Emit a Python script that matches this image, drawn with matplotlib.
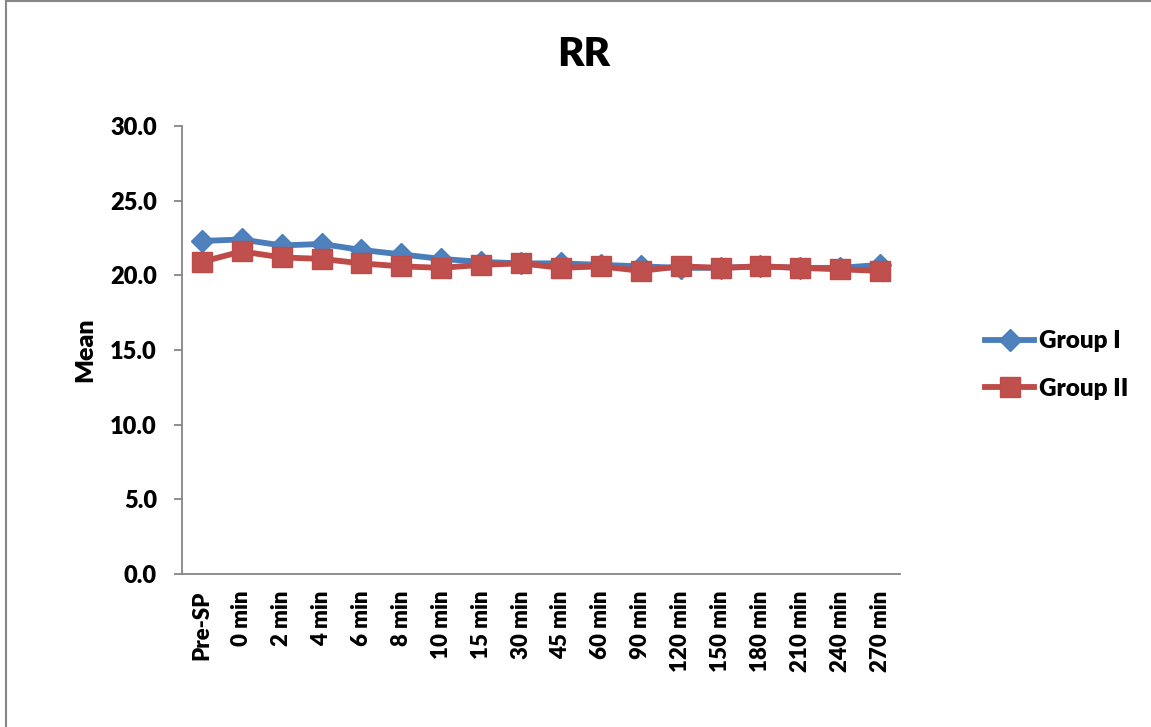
import matplotlib.pyplot as plt
from matplotlib.lines import Line2D

# RR means per time point
time_points = ["Pre-SP", "0 min", "2 min", "4 min", "6 min", "8 min", "10 min", "15 min",
               "30 min", "45 min", "60 min", "90 min", "120 min", "150 min", "180 min",
               "210 min", "240 min", "270 min"]
group_1 = [22.3, 22.4, 22.0, 22.1, 21.7, 21.4, 21.1, 20.9, 20.8, 20.8, 20.7, 20.6,
           20.5, 20.5, 20.6, 20.5, 20.5, 20.7]
group_2 = [20.9, 21.6, 21.2, 21.1, 20.8, 20.6, 20.5, 20.7, 20.8, 20.5, 20.6, 20.3,
           20.6, 20.5, 20.6, 20.5, 20.4, 20.3]

plt.rcParams['font.family'] = ['Lato', 'DejaVu Sans']
plt.rcParams['font.weight'] = 'heavy'

fig = plt.figure(figsize=(11.51, 7.27), dpi=100)
ax = fig.add_axes([0.158, 0.2105, 0.624, 0.6162])

x = range(len(time_points))
ax.plot(x, group_1, color='#4a7ebb', lw=4.2, marker='D', markersize=11,
        markerfacecolor='#4f81bd', markeredgecolor='#4a7ebb', label='Group I', zorder=2)
ax.plot(x, group_2, color='#be4b48', lw=4.2, marker='s', markersize=14,
        markerfacecolor='#c0504d', markeredgecolor='#be4b48', label='Group II', zorder=3)

ax.set_xlim(-0.5, len(time_points) - 0.5)
ax.set_ylim(0, 30)
ax.set_yticks([0, 5, 10, 15, 20, 25, 30])
ax.set_yticklabels([f"{v:.1f}" for v in [0, 5, 10, 15, 20, 25, 30]], fontsize=17, fontweight='heavy')
ax.set_xticks(list(x))
ax.set_xticklabels(time_points, rotation=90, fontsize=16, fontweight='heavy')
ax.tick_params(axis='x', length=0, pad=12)
ax.tick_params(axis='y', length=6, color='#868686', width=1.3, pad=12)

for side in ['top', 'right']:
    ax.spines[side].set_visible(False)
for side in ['left', 'bottom']:
    ax.spines[side].set_color('#868686')
    ax.spines[side].set_linewidth(1.3)

ax.set_ylabel('Mean', fontsize=18, fontweight='heavy', labelpad=10)
fig.text(0.507, 0.925, 'RR', ha='center', va='center', fontsize=29, fontweight='heavy')

handles = [Line2D([], [], color='#4a7ebb', lw=4.2, marker='D', markersize=11,
                  markerfacecolor='#4f81bd', markeredgecolor='#4a7ebb'),
           Line2D([], [], color='#be4b48', lw=4.2, marker='s', markersize=14,
                  markerfacecolor='#c0504d', markeredgecolor='#be4b48')]
fig.legend(handles, ['Group I', 'Group II'], loc='center left', bbox_to_anchor=(0.837, 0.498),
           frameon=False, handlelength=2.0, handletextpad=0.2, labelspacing=1.05,
           prop={'weight': 'heavy', 'size': 17.5})

# outer chart border (only left and top edges visible)
fig.add_artist(Line2D([0.0055, 0.0055], [0, 0.998], transform=fig.transFigure, color='#868686', lw=1.5))
fig.add_artist(Line2D([0.0055, 1.0], [0.998, 0.998], transform=fig.transFigure, color='#868686', lw=1.5))

fig.savefig('out.png', dpi=100)
